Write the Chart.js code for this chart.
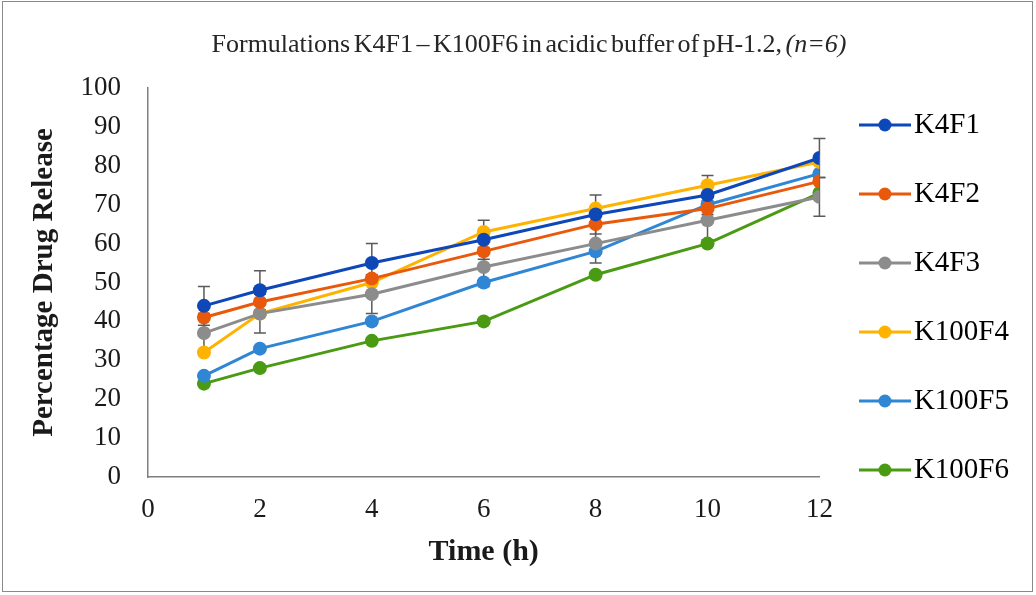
<!DOCTYPE html>
<html>
<head>
<meta charset="utf-8">
<script src="https://cdn.jsdelivr.net/npm/chart.js@4.4.1/dist/chart.umd.min.js"></script>
<style>
html,body{margin:0;padding:0;background:#fff;}
#wrap{position:relative;width:1036px;height:595px;overflow:hidden;}
#frame{position:absolute;left:2px;top:1px;width:1031px;height:591px;border:1px solid #8a8a8a;box-sizing:border-box;pointer-events:none;}
#title{position:absolute;left:11px;top:29px;width:1036px;text-align:center;font-family:"Liberation Serif","Times New Roman",serif;font-size:26px;color:#262626;word-spacing:-3px;white-space:nowrap;}
canvas{position:absolute;left:0;top:0;}
</style>
</head>
<body>
<div id="wrap">
  <canvas id="c" width="1036" height="595"></canvas>
  <div id="title">Formulations K4F1 – K100F6 in acidic buffer of pH-1.2, <i>(n=6)</i></div>
  <div id="frame"></div>
</div>
<script>
// ---- data ----
const hours = [1, 2, 4, 6, 8, 10, 12];
const seriesNames = ['K4F1', 'K4F2', 'K4F3', 'K100F4', 'K100F5', 'K100F6'];
const K4F1   = [44, 48, 55, 61, 67.5, 72.5, 82];
const K4F2   = [41, 45, 51, 58, 65, 69, 76];
const K4F3   = [37, 42, 47, 54, 60, 66, 72];
const K100F4 = [32, 42, 50, 63, 69, 75, 81];
const K100F5 = [26, 33, 40, 50, 58, 70, 78];
const K100F6 = [24, 28, 35, 40, 52, 60, 73];
const errK4F1 = [5, 5, 5, 5, 5, 5, 5];
const errK4F3 = [5, 5, 5, 5, 5, 5, 5];
const xTicks = [0, 2, 4, 6, 8, 10, 12];
const yTicks = [0, 10, 20, 30, 40, 50, 60, 70, 80, 90, 100];

const colors = ['#0d47b8', '#e8590c', '#8c8c8c', '#ffb300', '#2e86d4', '#4a9a14'];
const values = [K4F1, K4F2, K4F3, K100F4, K100F5, K100F6];
const errors = [errK4F1, null, errK4F3, null, null, null];

function legendIcon(color) {
  const c = document.createElement('canvas');
  c.width = 52; c.height = 16;
  const g = c.getContext('2d');
  g.strokeStyle = color; g.lineWidth = 3;
  g.beginPath(); g.moveTo(0, 8); g.lineTo(52, 8); g.stroke();
  g.fillStyle = color;
  g.beginPath(); g.arc(26, 8, 6.5, 0, Math.PI * 2); g.fill();
  return c;
}
const icons = colors.map(legendIcon);

const datasets = seriesNames.map((name, i) => ({
  label: name,
  data: hours.map((h, j) => ({ x: h, y: values[i][j] })),
  borderColor: colors[i],
  backgroundColor: colors[i],
  borderWidth: 3,
  pointRadius: 7,
  pointHoverRadius: 7,
  pointBorderWidth: 0,
  pointBackgroundColor: colors[i],
  tension: 0,
  errors: errors[i]
}));

const errorBarPlugin = {
  id: 'errorBars',
  beforeDatasetsDraw(chart) {
    const ctx = chart.ctx;
    const xs = chart.scales.x, ys = chart.scales.y;
    ctx.save();
    ctx.strokeStyle = '#5a5a5a';
    ctx.lineWidth = 1.5;
    chart.data.datasets.forEach(ds => {
      if (!ds.errors) return;
      ds.data.forEach((p, j) => {
        const e = ds.errors[j];
        const px = xs.getPixelForValue(p.x);
        const top = ys.getPixelForValue(p.y + e);
        const bot = ys.getPixelForValue(p.y - e);
        ctx.beginPath();
        ctx.moveTo(px, top); ctx.lineTo(px, bot);
        ctx.moveTo(px - 6, top); ctx.lineTo(px + 6, top);
        ctx.moveTo(px - 6, bot); ctx.lineTo(px + 6, bot);
        ctx.stroke();
      });
    });
    ctx.restore();
  }
};

// shift the legend box (drawn by Chart.js) to its place beside the plot
const legendShift = {
  id: 'legendShift',
  afterLayout(chart) {
    const lg = chart.legend;
    if (!lg) return;
    lg.left += 11; lg.right += 11;
    lg.top -= 33; lg.bottom -= 33;
  }
};

const serif = '"Liberation Serif","Times New Roman",serif';

new Chart(document.getElementById('c'), {
  type: 'line',
  data: { datasets },
  plugins: [errorBarPlugin, legendShift],
  options: {
    responsive: false,
    animation: false,
    events: [],
    layout: { padding: { left: 23, right: 28, top: 88, bottom: 22 } },
    plugins: {
      title: { display: false },
      tooltip: { enabled: false },
      legend: {
        position: 'right',
        align: 'center',
        labels: {
          usePointStyle: true,
          pointStyleWidth: 29,
          padding: 40,
          color: '#1a1a1a',
          font: { family: serif, size: 29 },
          generateLabels(chart) {
            return chart.data.datasets.map((ds, i) => ({
              text: ds.label,
              pointStyle: icons[i],
              fillStyle: colors[i],
              strokeStyle: colors[i],
              lineWidth: 0,
              hidden: false,
              datasetIndex: i
            }));
          }
        }
      }
    },
    scales: {
      x: {
        type: 'linear',
        min: 0, max: 12,
        afterBuildTicks(scale) { scale.ticks = xTicks.map(v => ({ value: v })); },
        afterFit(scale) { scale.height = 96; },
        grid: { display: false, drawTicks: false },
        border: { display: true, color: '#7f7f7f', width: 1.5 },
        ticks: { padding: 17, color: '#1a1a1a', font: { family: serif, size: 27 } },
        title: { display: true, text: 'Time (h)', color: '#1a1a1a', font: { family: serif, size: 30, weight: 'bold' }, padding: { top: 4, bottom: 3 } }
      },
      y: {
        type: 'linear',
        min: 0, max: 100,
        afterBuildTicks(scale) { scale.ticks = yTicks.map(v => ({ value: v })); },
        afterFit(scale) { scale.width = 125; },
        grid: { display: false, drawTicks: false },
        border: { display: true, color: '#7f7f7f', width: 1.5 },
        ticks: { padding: 27, color: '#1a1a1a', font: { family: serif, size: 27 } },
        title: { display: true, text: 'Percentage Drug Release', color: '#1a1a1a', font: { family: serif, size: 29, weight: 'bold' }, padding: { top: 4, bottom: 4 } }
      }
    }
  }
});
</script>
</body>
</html>
